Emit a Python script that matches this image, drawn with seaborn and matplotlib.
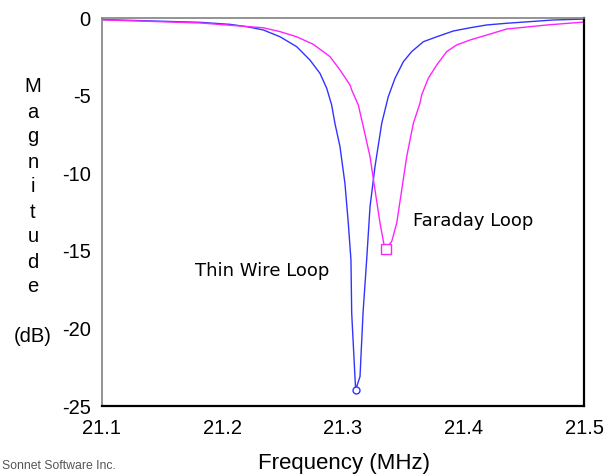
import matplotlib
matplotlib.use("Agg")
import matplotlib.pyplot as plt
import seaborn as sns
import pandas as pd
import numpy as np

# Thin wire loop response
thin_freq = [21.1000, 21.1815, 21.2063, 21.2202, 21.2339, 21.2478, 21.2616, 21.2726,
             21.2809, 21.2865, 21.2906, 21.2933, 21.2975, 21.3016, 21.3044, 21.3066,
             21.3072, 21.3099, 21.3105, 21.3141, 21.3166, 21.3196, 21.3224, 21.3265,
             21.3321, 21.3375, 21.3431, 21.3500, 21.3569, 21.3666, 21.3777, 21.3914,
             21.4053, 21.4191, 21.4357, 21.4741, 21.5000]
thin_mag = [-0.08, -0.26, -0.39, -0.54, -0.75, -1.19, -1.83, -2.69,
            -3.55, -4.51, -5.59, -6.77, -8.28, -10.64, -13.22, -15.59,
            -19.0, -23.1, -23.95, -23.1, -19.0, -15.59, -12.15, -9.57,
            -6.77, -5.06, -3.87, -2.80, -2.15, -1.51, -1.19, -0.82,
            -0.61, -0.43, -0.32, -0.11, -0.05]

# Faraday loop response
faraday_freq = [21.1000, 21.1815, 21.2339, 21.2478, 21.2616, 21.2754, 21.2892, 21.2975,
                21.3058, 21.3072, 21.3127, 21.3168, 21.3224, 21.3265, 21.3307, 21.3340,
                21.3354, 21.3404, 21.3445, 21.3487, 21.3528, 21.3583, 21.3638, 21.3652,
                21.3707, 21.3777, 21.3859, 21.3942, 21.4053, 21.4191, 21.4357, 21.4691,
                21.5000]
faraday_mag = [-0.10, -0.30, -0.61, -0.86, -1.19, -1.68, -2.47, -3.33,
               -4.30, -4.62, -5.59, -6.98, -8.92, -11.06, -13.21, -14.61,
               -14.87, -14.39, -13.21, -11.06, -8.92, -6.77, -5.48, -4.94,
               -3.87, -3.01, -2.15, -1.72, -1.40, -1.08, -0.69, -0.43,
               -0.24]

x_ticks = [21.1, 21.2, 21.3, 21.4, 21.5]
y_ticks = [0, -5, -10, -15, -20, -25]

sns.set_style("white")
plt.rcParams["font.family"] = ["Liberation Sans", "DejaVu Sans"]
plt.rcParams["text.color"] = "black"

fig = plt.figure(figsize=(6.15, 4.76), dpi=100)
ax = fig.add_axes([101.7 / 615, 1 - 406 / 476, (584.3 - 101.7) / 615, (406 - 18.3) / 476])

thin = pd.DataFrame({"freq": thin_freq, "mag": thin_mag})
far = pd.DataFrame({"freq": faraday_freq, "mag": faraday_mag})

sns.lineplot(data=thin, x="freq", y="mag", ax=ax, color="#3333ff", lw=1.0)
sns.lineplot(data=far, x="freq", y="mag", ax=ax, color="#ff22ff", lw=1.0)

# markers at the minima
i = int(np.argmin(thin_mag))
ax.plot(thin_freq[i], thin_mag[i], marker="o", ms=5, mfc="white", mec="#3333ff", mew=1)
j = int(np.argmin(faraday_mag))
ax.plot(faraday_freq[j], faraday_mag[j], marker="s", ms=6.5, mfc="white", mec="#ff22ff", mew=1)

ax.set_xlim(21.1, 21.5)
ax.set_ylim(-25, 0)
ax.set_xticks(x_ticks)
ax.set_xticklabels([f"{v:.1f}" for v in x_ticks])
ax.set_yticks(y_ticks)
ax.set_yticklabels([str(v) for v in y_ticks])
ax.tick_params(axis="both", direction="out", length=5, width=1, color="#aaaaaa",
               labelsize=14.5, labelcolor="black")
ax.tick_params(axis="x", pad=4)
ax.tick_params(axis="y", pad=3)
ax.set_xlabel("")
ax.set_ylabel("")

for s in ["top", "left"]:
    ax.spines[s].set_color("#808080")
    ax.spines[s].set_linewidth(1.2)
for s in ["bottom", "right"]:
    ax.spines[s].set_color("black")
    ax.spines[s].set_linewidth(1.6)

ax.text(21.1773, -16.3, "Thin Wire Loop", fontsize=13, family="DejaVu Sans",
        color="black", va="center", ha="left")
ax.text(21.358, -13.1, "Faraday Loop", fontsize=13, family="DejaVu Sans",
        color="black", va="center", ha="left")

# stacked y label
for k, ch in enumerate("Magnitude"):
    fig.text(33 / 615, 1 - (87 + 25 * k) / 476, ch, fontsize=14.5, ha="center", va="center")
fig.text(33 / 615, 1 - 337 / 476, "(dB)", fontsize=14.5, ha="center", va="center")

fig.text(344 / 615, 1 - 463 / 476, "Frequency (MHz)", fontsize=16, ha="center", va="center")
fig.text(2 / 615, 1 - 466 / 476, "Sonnet Software Inc.", fontsize=8.8, color="#555555",
         ha="left", va="center")

fig.savefig("out.png", dpi=100)
